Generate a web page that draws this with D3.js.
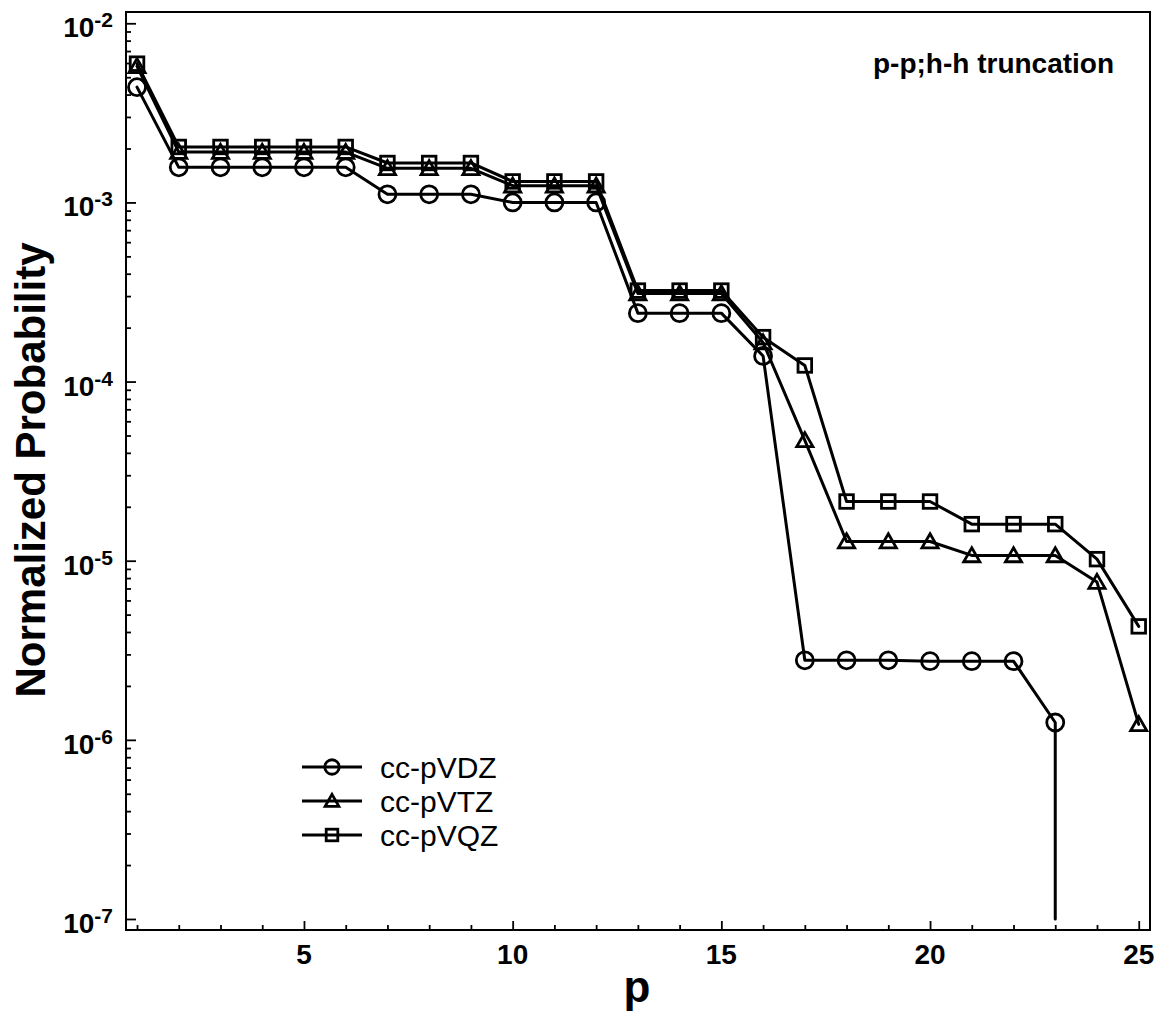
<!DOCTYPE html>
<html>
<head>
<meta charset="utf-8">
<script src="https://cdn.jsdelivr.net/npm/d3@7"></script>
<style>
  html, body { margin: 0; padding: 0; background: #fff; }
  svg { display: block; }
  text { font-family: "Liberation Sans", Arial, sans-serif; fill: #000; }
</style>
</head>
<body>
<script>
// Excitation level p (x axis)
const pLevels = [1, 2, 3, 4, 5, 6, 7, 8, 9, 10, 11, 12, 13, 14, 15, 16, 17, 18, 19, 20, 21, 22, 23, 24, 25];

// Normalized probabilities per basis set
const vdzValues = [4.4e-3, 1.57e-3, 1.57e-3, 1.57e-3, 1.57e-3, 1.57e-3, 1.11e-3, 1.11e-3, 1.11e-3,
  1.0e-3, 1.0e-3, 1.0e-3, 2.41e-4, 2.41e-4, 2.41e-4, 1.39e-4, 2.78e-6, 2.78e-6, 2.78e-6,
  2.75e-6, 2.75e-6, 2.75e-6, 1.25e-6];
const vtzValues = [5.75e-3, 1.91e-3, 1.91e-3, 1.91e-3, 1.91e-3, 1.91e-3, 1.55e-3, 1.55e-3, 1.55e-3,
  1.24e-3, 1.24e-3, 1.24e-3, 3.1e-4, 3.1e-4, 3.1e-4, 1.65e-4, 4.7e-5, 1.28e-5, 1.28e-5,
  1.28e-5, 1.07e-5, 1.07e-5, 1.07e-5, 7.6e-6, 1.22e-6];
const vqzValues = [5.95e-3, 2.04e-3, 2.04e-3, 2.04e-3, 2.04e-3, 2.04e-3, 1.66e-3, 1.66e-3, 1.66e-3,
  1.31e-3, 1.31e-3, 1.31e-3, 3.22e-4, 3.22e-4, 3.22e-4, 1.77e-4, 1.23e-4, 2.14e-5, 2.14e-5,
  2.14e-5, 1.6e-5, 1.6e-5, 1.6e-5, 1.02e-5, 4.3e-6];

// cc-pVDZ drops to zero after its last point; the line falls to the axis floor
const vdzDropValue = 1e-7;

const seriesNames = ["cc-pVDZ", "cc-pVTZ", "cc-pVQZ"];
const seriesSymbols = ["circle", "triangle", "square"];

const xMajorTicks = [5, 10, 15, 20, 25];
const yDecadeExponents = [-2, -3, -4, -5, -6, -7];
const annotationText = "p-p;h-h truncation";
const xTitle = "p";
const yTitle = "Normalized Probability";

const W = 1162, H = 1019;
const plot = { left: 126, right: 1150, top: 12, bottom: 930 };

const svg = d3.select("body").append("svg").attr("width", W).attr("height", H);

const x = d3.scaleLinear().domain([0.736, 25.27]).range([plot.left, plot.right]);
const y = d3.scaleLog().domain([Math.pow(10, -7.0615), Math.pow(10, -1.937)]).range([plot.bottom, plot.top]);

// Clip area for data
svg.append("defs").append("clipPath").attr("id", "plotClip")
  .append("rect").attr("x", plot.left).attr("y", plot.top)
  .attr("width", plot.right - plot.left).attr("height", plot.bottom - plot.top);

// Axes: ticks pointing into the plot
const xMinor = pLevels.filter(v => !xMajorTicks.includes(v));
const xAxisG = svg.append("g").attr("transform", `translate(0,${plot.bottom})`);
xAxisG.call(d3.axisTop(x).tickValues(xMajorTicks).tickSize(9).tickFormat(""));
xAxisG.append("g").call(d3.axisTop(x).tickValues(xMinor).tickSize(5).tickFormat(""));
xAxisG.selectAll(".domain").remove();
xAxisG.selectAll("line").attr("stroke", "#000").attr("stroke-width", 1.8);

const yMajor = yDecadeExponents.map(e => Math.pow(10, e));
const yMinor = [];
yDecadeExponents.forEach(e => {
  if (e === -2) return;
  for (let k = 2; k <= 9; k++) yMinor.push(k * Math.pow(10, e));
});
const yAxisG = svg.append("g").attr("transform", `translate(${plot.left},0)`);
yAxisG.call(d3.axisRight(y).tickValues(yMajor).tickSize(10).tickFormat(""));
yAxisG.append("g").call(d3.axisRight(y).tickValues(yMinor).tickSize(5).tickFormat(""));
yAxisG.selectAll(".domain").remove();
yAxisG.selectAll("line").attr("stroke", "#000").attr("stroke-width", 1.8);

// Frame
svg.append("rect")
  .attr("x", plot.left).attr("y", plot.top)
  .attr("width", plot.right - plot.left).attr("height", plot.bottom - plot.top)
  .attr("fill", "none").attr("stroke", "#000").attr("stroke-width", 2);

// X tick labels
svg.append("g").selectAll("text").data(xMajorTicks).join("text")
  .attr("x", d => x(d)).attr("y", 964)
  .attr("text-anchor", "middle")
  .attr("font-size", 28).attr("font-weight", "bold")
  .text(d => d);

// Y tick labels with superscript exponents
const yLab = svg.append("g").selectAll("text").data(yDecadeExponents).join("text")
  .attr("x", 113).attr("y", d => y(Math.pow(10, d)) + 14)
  .attr("text-anchor", "end")
  .attr("font-weight", "bold");
yLab.append("tspan").attr("font-size", 28).text("10");
yLab.append("tspan").attr("font-size", 21).attr("dy", -10).text(d => d);

// Axis titles
svg.append("text")
  .attr("x", 637).attr("y", 1002)
  .attr("text-anchor", "middle")
  .attr("font-size", 44).attr("font-weight", "bold")
  .text(xTitle);
svg.append("text")
  .attr("transform", `translate(45,470) rotate(-90)`)
  .attr("text-anchor", "middle")
  .attr("font-size", 42).attr("font-weight", "bold")
  .text(yTitle);

// Annotation
svg.append("text")
  .attr("x", 873).attr("y", 73)
  .attr("font-size", 28).attr("font-weight", "bold")
  .text(annotationText);

// Marker drawing helper
function drawMarker(g, kind, cx, cy, size) {
  if (kind === "circle") {
    g.append("circle").attr("cx", cx).attr("cy", cy).attr("r", size * 0.5);
  } else if (kind === "square") {
    const s = size * 0.8;
    g.append("rect").attr("x", cx - s / 2).attr("y", cy - s / 2).attr("width", s).attr("height", s);
  } else {
    const s = size * 0.95;
    const h = s * 0.87;
    g.append("path").attr("d",
      `M${cx},${cy - h * 0.55}L${cx + s / 2},${cy + h * 0.45}L${cx - s / 2},${cy + h * 0.45}Z`);
  }
}

const seriesValues = [vdzValues, vtzValues, vqzValues];
const line = d3.line().x(d => x(d[0])).y(d => y(d[1]));
const dataG = svg.append("g").attr("clip-path", "url(#plotClip)");

seriesValues.forEach((vals, i) => {
  const pts = vals.map((v, j) => [pLevels[j], v]);
  const linePts = pts.slice();
  if (i === 0) linePts.push([pLevels[vals.length - 1], vdzDropValue]);
  dataG.append("path").datum(linePts)
    .attr("d", line)
    .attr("fill", "none").attr("stroke", "#000").attr("stroke-width", 3)
    .attr("stroke-linejoin", "round").attr("stroke-linecap", "round");
  const mg = dataG.append("g").attr("fill", "none").attr("stroke", "#000").attr("stroke-width", 2.8);
  pts.forEach(p => drawMarker(mg, seriesSymbols[i], x(p[0]), y(p[1]), 17));
});

// Legend
const legendRows = [767, 801, 835];
seriesNames.forEach((name, i) => {
  const ly = legendRows[i];
  svg.append("line").attr("x1", 302).attr("x2", 362).attr("y1", ly).attr("y2", ly)
    .attr("stroke", "#000").attr("stroke-width", 3);
  const mg = svg.append("g").attr("fill", "none").attr("stroke", "#000").attr("stroke-width", 2.8);
  drawMarker(mg, seriesSymbols[i], 332, ly, 14.5);
  svg.append("text").attr("x", 380).attr("y", ly + 11)
    .attr("font-size", 30).text(name);
});
</script>
</body>
</html>
